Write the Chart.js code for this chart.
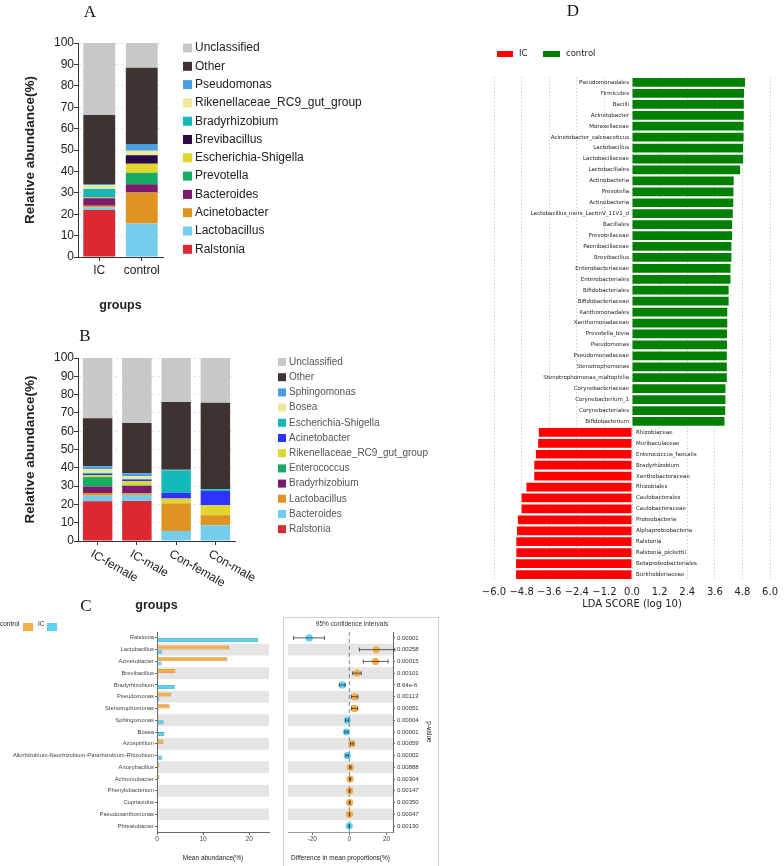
<!DOCTYPE html>
<html>
<head>
<meta charset="utf-8">
<script src="https://cdn.jsdelivr.net/npm/chart.js@4.4.1/dist/chart.umd.min.js"></script>
<style>
  body { margin: 0; background: #fff; }
  #figure { position: relative; width: 784px; height: 866px; overflow: hidden; background: #fff; }
  #figure canvas { position: absolute; }
  .panel-tag { position: absolute; font: 17px "Liberation Serif", "DejaVu Serif", serif; color: #111; transform: translate(-50%, -50%); }
</style>
</head>
<body>
<div id="figure">
  <canvas id="chart-a" width="380" height="320" style="left:0;top:0"></canvas>
  <canvas id="chart-b" width="440" height="300" style="left:0;top:320px"></canvas>
  <canvas id="chart-c-mean" width="280" height="276" style="left:0;top:590px"></canvas>
  <canvas id="chart-c-diff" width="160" height="276" style="left:280px;top:590px"></canvas>
  <canvas id="chart-d" width="404" height="620" style="left:380px;top:0"></canvas>
  <div class="panel-tag" style="left:90px;top:12px">A</div>
  <div class="panel-tag" style="left:85px;top:336px">B</div>
  <div class="panel-tag" style="left:86px;top:606px">C</div>
  <div class="panel-tag" style="left:573px;top:11px">D</div>
</div>
<script>
const SANS = '"Liberation Sans", Arial, sans-serif';
const DEJAVU = '"DejaVu Sans", sans-serif';

// panel A: genus composition by group (bottom of the stack first)
const groupsA = ["IC", "control"];
const taxaA = ["Ralstonia", "Lactobacillus", "Acinetobacter", "Bacteroides", "Prevotella", "Escherichia-Shigella",
    "Brevibacillus", "Bradyrhizobium", "Rikenellaceae_RC9_gut_group", "Pseudomonas", "Other", "Unclassified"];
const abundA = [
    [22.0, 0], [1.1, 15.7], [0.8, 14.4], [3.5, 3.9], [0.3, 5.4], [0.3, 4.2],
    [0.2, 4.0], [3.6, 0.1], [1.9, 2.0], [0.4, 3.1], [32.3, 35.6], [33.6, 11.6]
];
const colorsA = ["#dc2830", "#74cdec", "#df9322", "#7b1b6b", "#17ac63", "#e2d52e",
    "#2a0a44", "#14b8b8", "#eee89a", "#4a9de0", "#3d3331", "#c8c8c8"];

// panel B: composition by group and sex
const groupsB = ["IC-female", "IC-male", "Con-female", "Con-male"];
const taxaB = ["Ralstonia", "Bacteroides", "Lactobacillus", "Bradyrhizobium", "Enterococcus", "Rikenellaceae_RC9_gut_group",
    "Acinetobacter", "Escherichia-Shigella", "Bosea", "Sphingomonas", "Other", "Unclassified"];
const abundB = [
    [21.7, 21.9, 0, 0], [3.1, 3.3, 5.5, 8.6], [1.4, 0.9, 14.8, 5.5], [3.6, 4.0, 0.1, 0],
    [5.1, 0.3, 0, 0], [1.1, 2.3, 2.8, 5.4], [0.7, 0.9, 3.1, 7.8], [0.5, 0.3, 12.2, 0.9],
    [2.0, 1.5, 0, 0], [1.6, 1.6, 0.4, 0.1], [26.3, 27.5, 37.1, 47.3], [32.9, 35.5, 24.0, 24.4]
];
const colorsB = ["#dc2830", "#74cdec", "#df9322", "#7b1b6b", "#17ac63", "#e2d52e",
    "#2f33ff", "#14b8b8", "#eee89a", "#4a9de0", "#3d3331", "#c8c8c8"];

// panel C: Welch t-test, mean abundance and difference with 95% CI
const taxaC = ["Ralstonia", "Lactobacillus", "Acinetobacter", "Brevibacillus", "Bradyrhizobium", "Pseudomonas",
    "Stenotrophomonas", "Sphingomonas", "Bosea", "Azospirillum", "Allorhizobium-Neorhizobium-Pararhizobium-Rhizobium",
    "Anoxybacillus", "Achromobacter", "Phenylobacterium", "Cupriavidus", "Pseudoxanthomonas", "Phreatobacter"];
const meanControl = [0, 15.65, 15.3, 4.0, 0, 3.1, 2.75, 0.35, 0, 1.4, 0, 0.5, 0.43, 0.2, 0.15, 0.06, 0.03];
const meanIC = [22.0, 1.16, 1.0, 0, 3.84, 0.5, 0, 1.45, 1.6, 0, 1.16, 0, 0, 0, 0, 0, 0.06];
const diffC = [-21.6, 14.5, 14.1, 4.1, -3.75, 2.9, 2.8, -1.1, -1.6, 1.4, -1.1, 0.55, 0.4, 0.2, 0.2, 0.1, -0.05];
const ciLow = [-30.0, 5.4, 7.5, 1.8, -5.4, 1.1, 1.2, -2.0, -2.4, 0.6, -1.8, 0.2, 0.1, 0.0, 0.0, 0.0, -0.2];
const ciHigh = [-13.4, 24.5, 20.9, 6.4, -2.3, 4.6, 4.5, -0.3, -0.7, 2.1, -0.4, 0.9, 0.7, 0.4, 0.4, 0.2, 0.1];
const pValues = ["0.00001", "0.00258", "0.00015", "0.00101", "8.64e-6", "0.00113", "0.00051", "0.00004", "0.00001",
    "0.00059", "0.00002", "0.00888", "0.00304", "0.00147", "0.00350", "0.00047", "0.00130"];
const meanTicks = [0, 10, 20];
const diffTicks = [-20, 0, 20];

// panel D: LEfSe LDA scores
const ldaNames = ["Pseudomonadales", "Firmicutes", "Bacilli", "Acinetobacter", "Moraxellaceae", "Acinetobacter_calcoaceticus",
    "Lactobacillus", "Lactobacillaceae", "Lactobacillales", "Actinobacteria", "Prevotella", "Actinobacteria",
    "Lactobacillus_iners_LactinV_11V1_d", "Bacillales", "Prevotellaceae", "Paenibacillaceae", "Brevibacillus",
    "Enterobacteriaceae", "Enterobacteriales", "Bifidobacteriales", "Bifidobacteriaceae", "Xanthomonadales",
    "Xanthomonadaceae", "Prevotella_bivia", "Pseudomonas", "Pseudomonadaceae", "Stenotrophomonas",
    "Stenotrophomonas_maltophilia", "Corynebacteriaceae", "Corynebacterium_1", "Corynebacteriales", "Bifidobacterium",
    "Rhizobiaceae", "Muribaculaceae", "Enterococcus_faecalis", "Bradyrhizobium", "Xanthobacteraceae", "Rhizobiales",
    "Caulobacterales", "Caulobacteraceae", "Proteobacteria", "Alphaproteobacteria", "Ralstonia", "Ralstonia_pickettii",
    "Betaproteobacteriales", "Burkholderiaceae"];
const ldaScores = [4.91, 4.87, 4.86, 4.86, 4.85, 4.85, 4.83, 4.83, 4.70, 4.42, 4.41, 4.40, 4.38, 4.35, 4.35, 4.32,
    4.32, 4.28, 4.28, 4.20, 4.20, 4.14, 4.14, 4.13, 4.13, 4.12, 4.12, 4.12, 4.06, 4.06, 4.05, 4.02,
    -4.05, -4.08, -4.18, -4.25, -4.25, -4.59, -4.80, -4.80, -4.96, -5.00, -5.03, -5.03, -5.04, -5.04];
const ldaTicks = [-6, -4.8, -3.6, -2.4, -1.2, 0, 1.2, 2.4, 3.6, 4.8, 6];

const ORANGE = "#f4ad47", ORANGE_EDGE = "#c98b35", BLUE = "#5dd2f3", BLUE_EDGE = "#3aa3c6";

Chart.defaults.font.family = SANS;
Chart.defaults.color = "#222";

// stacked legend, top entry = last dataset
const boxLegend = {
    id: "boxLegend",
    afterDraw(chart, args, o) {
        const { ctx } = chart;
        ctx.save();
        ctx.font = `${o.size}px ${SANS}`;
        ctx.textBaseline = "middle";
        chart.data.datasets.slice().reverse().forEach((ds, i) => {
            const y = o.y + i * o.step;
            ctx.fillStyle = ds.backgroundColor;
            ctx.fillRect(o.x, y - o.box / 2, o.box, o.box);
            ctx.fillStyle = o.color;
            ctx.fillText(ds.label, o.x + o.box + o.gap, y);
        });
        ctx.restore();
    }
};

const slantLabels = {
    id: "slantLabels",
    afterDraw(chart, args, o) {
        const { ctx, scales: { x } } = chart;
        ctx.save();
        ctx.font = `${o.size}px ${SANS}`;
        ctx.fillStyle = "#222";
        ctx.textBaseline = "top";
        chart.data.labels.forEach((label, i) => {
            ctx.save();
            ctx.translate(x.getPixelForValue(i) + o.dx, x.top + o.dy);
            ctx.rotate(o.angle * Math.PI / 180);
            ctx.fillText(label, 0, 0);
            ctx.restore();
        });
        ctx.restore();
    }
};

const keyLegend = {
    id: "keyLegend",
    afterDraw(chart, args, o) {
        const { ctx } = chart;
        ctx.save();
        ctx.font = o.font;
        ctx.textBaseline = "middle";
        o.items.forEach(item => {
            ctx.fillStyle = item.color;
            ctx.fillRect(...item.box);
            ctx.fillStyle = "#222";
            ctx.fillText(item.label, item.textX, o.y);
        });
        ctx.restore();
    }
};

const rowBands = {
    id: "rowBands",
    beforeDraw(chart, args, o) {
        const { ctx, chartArea: a, scales: { y } } = chart;
        const n = chart.data.labels.length;
        const h = (a.bottom - a.top) / n;
        ctx.save();
        ctx.fillStyle = o.color;
        for (let i = 1; i < n; i += 2) ctx.fillRect(a.left, y.getPixelForValue(i) - h / 2, a.right - a.left, h);
        ctx.restore();
    }
};

const zeroLine = {
    id: "zeroLine",
    beforeDatasetsDraw(chart) {
        const { ctx, chartArea: a, scales: { x } } = chart;
        const px = x.getPixelForValue(0);
        ctx.save();
        ctx.strokeStyle = "#666";
        ctx.lineWidth = 0.8;
        ctx.setLineDash([4, 3]);
        ctx.beginPath();
        ctx.moveTo(px, a.top);
        ctx.lineTo(px, a.bottom);
        ctx.stroke();
        ctx.restore();
    }
};

const errorBars = {
    id: "errorBars",
    afterDatasetsDraw(chart, args, o) {
        const { ctx, chartArea: a, scales: { x, y } } = chart;
        ctx.save();
        ctx.beginPath();
        ctx.rect(a.left, a.top, a.right - a.left + 3, a.bottom - a.top);
        ctx.clip();
        ctx.strokeStyle = "#333";
        ctx.lineWidth = 0.8;
        o.low.forEach((lo, i) => {
            const yc = y.getPixelForValue(i);
            const x1 = x.getPixelForValue(lo), x2 = x.getPixelForValue(o.high[i]);
            ctx.beginPath();
            ctx.moveTo(x1, yc); ctx.lineTo(x2, yc);
            ctx.moveTo(x1, yc - o.cap); ctx.lineTo(x1, yc + o.cap);
            ctx.moveTo(x2, yc - o.cap); ctx.lineTo(x2, yc + o.cap);
            ctx.stroke();
        });
        ctx.restore();
    }
};

const ciFrame = {
    id: "ciFrame",
    afterDraw(chart, args, o) {
        const { ctx } = chart;
        ctx.save();
        ctx.strokeStyle = "#d0d0d0";
        ctx.lineWidth = 1;
        ctx.strokeRect(3.5, 27.5, 155, 260);
        ctx.font = `6.5px ${SANS}`;
        ctx.fillStyle = "#333";
        ctx.textAlign = "center";
        ctx.textBaseline = "middle";
        ctx.fillText(o.title, 72, 34);
        ctx.restore();
    }
};

const barNames = {
    id: "barNames",
    afterDatasetsDraw(chart) {
        const { ctx, scales: { x, y } } = chart;
        const zero = x.getPixelForValue(0);
        ctx.save();
        ctx.font = `5.5px ${DEJAVU}`;
        ctx.fillStyle = "#222";
        ctx.textBaseline = "middle";
        chart.data.datasets[0].data.forEach((v, i) => {
            ctx.textAlign = v > 0 ? "right" : "left";
            ctx.fillText(chart.data.labels[i], v > 0 ? zero - 3 : zero + 4, y.getPixelForValue(i));
        });
        ctx.restore();
    }
};

function stackedChart(id, groups, taxa, values, colors, o) {
    return new Chart(document.getElementById(id), {
        type: "bar",
        data: {
            labels: groups,
            datasets: taxa.map((name, i) => ({ label: name, data: values[i], backgroundColor: colors[i], barPercentage: 0.75, categoryPercentage: 1 }))
        },
        options: {
            responsive: false, animation: false, events: [],
            layout: { padding: o.padding },
            plugins: { legend: { display: false }, tooltip: { enabled: false }, boxLegend: o.legend, slantLabels: o.slant || false },
            scales: {
                x: {
                    stacked: true,
                    grid: { offset: false, drawOnChartArea: false, tickLength: 4, tickColor: "#333" },
                    border: { color: "#333" },
                    ticks: { display: !o.slant, color: "#222", font: { size: 12 }, padding: 2 },
                    title: { display: true, text: "groups", color: "#222", font: { size: 12.5, weight: "bold" }, padding: { bottom: 6.5 } },
                    afterFit: s => { s.height = o.xHeight; }
                },
                y: {
                    stacked: true, min: 0, max: 100,
                    ticks: { stepSize: 10, color: "#222", font: { size: 12 }, padding: 0 },
                    grid: { color: "#e6e6e6", tickLength: 4, tickColor: "#333" },
                    border: { color: "#333", dash: [3, 3] },
                    title: { display: true, text: "Relative abundance(%)", color: "#222", font: { size: 13.5, weight: "bold" }, padding: { top: 22 } },
                    afterFit: s => { s.width = 78; }
                }
            }
        },
        plugins: [boxLegend, slantLabels]
    });
}

stackedChart("chart-a", groupsA, taxaA, abundA, colorsA, {
    padding: { left: 0, top: 43, right: 217, bottom: 0 },
    xHeight: 63,
    legend: { x: 183, y: 48, step: 18.3, box: 9, gap: 3, size: 12, color: "#222" }
});

stackedChart("chart-b", groupsB, taxaB, abundB, colorsB, {
    padding: { left: 0, top: 38, right: 205, bottom: 0 },
    xHeight: 79,
    slant: { size: 12, angle: 30, dx: -3, dy: 7 },
    legend: { x: 278, y: 42, step: 15.2, box: 8, gap: 3, size: 10, color: "#555" }
});

new Chart(document.getElementById("chart-c-mean"), {
    type: "bar",
    data: {
        labels: taxaC,
        datasets: [
            { label: "control", data: meanControl, backgroundColor: ORANGE, borderColor: ORANGE_EDGE, borderWidth: 0.8 },
            { label: "IC", data: meanIC, backgroundColor: BLUE, borderColor: BLUE_EDGE, borderWidth: 0.8 }
        ]
    },
    options: {
        indexAxis: "y", responsive: false, animation: false, events: [],
        datasets: { bar: { categoryPercentage: 0.72, barPercentage: 0.96 } },
        layout: { padding: { left: 0, top: 42, right: 11, bottom: 0 } },
        plugins: {
            legend: { display: false }, tooltip: { enabled: false },
            rowBands: { color: "#e5e5e5" },
            keyLegend: {
                font: `6.5px ${SANS}`, y: 34,
                items: [
                    { label: "control", color: ORANGE, box: [23, 33, 10, 8], textX: 0 },
                    { label: "IC", color: BLUE, box: [47, 33, 10, 8], textX: 38 }
                ]
            }
        },
        scales: {
            x: {
                min: 0, max: 24.3,
                afterBuildTicks: s => { s.ticks = meanTicks.map(v => ({ value: v })); },
                ticks: { font: { size: 6.5 }, color: "#444", padding: 0 },
                grid: { drawOnChartArea: false, tickLength: 3, tickColor: "#666" },
                border: { color: "#666" },
                title: { display: true, text: "Mean abundance(%)", color: "#222", font: { size: 6.5 }, padding: { bottom: 4 } },
                afterFit: s => { s.height = 34; }
            },
            y: {
                ticks: { autoSkip: false, font: { size: 5.8 }, color: "#444", padding: 1 },
                grid: { offset: false, drawOnChartArea: false, tickLength: 2, tickColor: "#666" },
                border: { color: "#666" },
                afterFit: s => { s.width = 157; }
            }
        }
    },
    plugins: [rowBands, keyLegend]
});

new Chart(document.getElementById("chart-c-diff"), {
    type: "line",
    data: {
        labels: taxaC,
        datasets: [{
            data: diffC, showLine: false, pointRadius: 3.6, pointBorderWidth: 0,
            pointBackgroundColor: diffC.map(v => v > 0 ? ORANGE : BLUE)
        }]
    },
    options: {
        indexAxis: "y", responsive: false, animation: false, events: [],
        layout: { padding: { left: 8, top: 42, right: 0, bottom: 0 } },
        plugins: {
            legend: { display: false }, tooltip: { enabled: false },
            rowBands: { color: "#e5e5e5" },
            errorBars: { low: ciLow, high: ciHigh, cap: 2 },
            ciFrame: { title: "95% confidence intervals" }
        },
        scales: {
            x: {
                type: "linear", min: -33, max: 23.5,
                afterBuildTicks: s => { s.ticks = diffTicks.map(v => ({ value: v })); },
                ticks: { font: { size: 6.5 }, color: "#444", padding: 0 },
                grid: { drawOnChartArea: false, tickLength: 3, tickColor: "#666" },
                border: { color: "#999" },
                title: { display: true, text: "Difference in mean proportions(%)", color: "#222", font: { size: 6.5 }, padding: { bottom: 4 } },
                afterFit: s => { s.height = 34; }
            },
            y: {
                type: "category", position: "right", labels: pValues, offset: true,
                ticks: { autoSkip: false, font: { size: 6 }, color: "#333", padding: 2 },
                grid: { offset: false, drawOnChartArea: false, tickLength: 2, tickColor: "#666" },
                border: { color: "#666" },
                title: { display: true, text: "p-value", color: "#222", font: { size: 6.5 }, padding: { top: 7 } },
                afterFit: s => { s.width = 47; }
            }
        }
    },
    plugins: [rowBands, zeroLine, errorBars, ciFrame]
});

new Chart(document.getElementById("chart-d"), {
    type: "bar",
    data: {
        labels: ldaNames,
        datasets: [{ data: ldaScores, backgroundColor: ldaScores.map(v => v > 0 ? "#008000" : "#ff0000"), barPercentage: 0.8, categoryPercentage: 1 }]
    },
    options: {
        indexAxis: "y", responsive: false, animation: false, events: [],
        layout: { padding: { left: 114, right: 7, top: 77, bottom: 0 } },
        plugins: {
            legend: { display: false }, tooltip: { enabled: false },
            keyLegend: {
                font: `8.5px ${DEJAVU}`, y: 54,
                items: [
                    { label: "IC", color: "#ff0000", box: [117, 51, 16, 6], textX: 139 },
                    { label: "control", color: "#008000", box: [163, 51, 17, 6], textX: 186 }
                ]
            }
        },
        scales: {
            x: {
                min: -6, max: 6,
                afterBuildTicks: s => { s.ticks = ldaTicks.map(v => ({ value: v })); },
                ticks: {
                    autoSkip: false, maxRotation: 0, minRotation: 0, padding: 6, color: "#222",
                    font: { family: DEJAVU, size: 10 },
                    callback: v => (v < 0 ? "\u2212" : "") + Math.abs(v).toFixed(1)
                },
                grid: { color: "#cfcfcf", drawTicks: false },
                border: { display: false, dash: [1.5, 2] },
                title: { display: true, text: "LDA SCORE (log 10)", color: "#222", font: { family: DEJAVU, size: 10 }, padding: { bottom: 10 } },
                afterFit: s => { s.height = 40; }
            },
            y: { display: false }
        }
    },
    plugins: [barNames, keyLegend]
});
</script>
</body>
</html>
